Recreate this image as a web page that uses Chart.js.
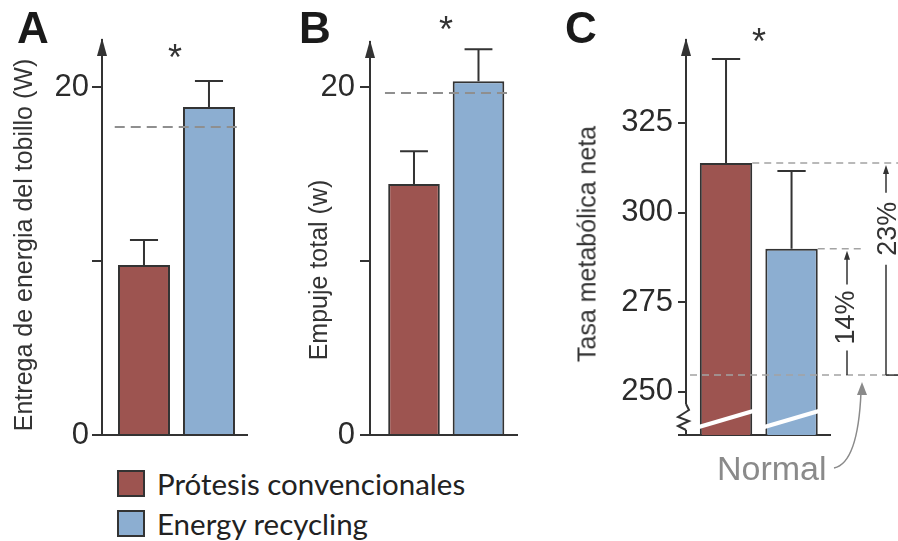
<!DOCTYPE html>
<html>
<head>
<meta charset="utf-8">
<script src="https://cdn.jsdelivr.net/npm/chart.js@4/dist/chart.umd.min.js"></script>
<style>
  body { margin: 0; background: #fff; }
  #wrap { position: relative; width: 898px; height: 541px; overflow: hidden; font-family: "Liberation Sans", Arial, sans-serif; color: #333; }
  canvas { position: absolute; top: 0; }
  .letter { position: absolute; font-weight: bold; font-size: 44px; line-height: 44px; color: #1a1a1a; }
  .star { position: absolute; font-size: 36px; line-height: 36px; color: #333; }
  .ytitle { position: absolute; font-size: 25px; line-height: 25px; white-space: nowrap; color: #333;
            transform: translate(-50%, -50%) rotate(-90deg); }
  .normal { position: absolute; left: 717px; top: 451px; font-size: 34px; line-height: 34px; color: #8a8a8a; }
  .key { position: absolute; left: 117px; width: 24px; height: 23px; border: 2px solid #333; }
  .keytxt { position: absolute; left: 157px; font-family: Lato, "Open Sans", sans-serif; font-size: 29.5px; line-height: 30px; color: #222; }
</style>
</head>
<body>
<div id="wrap">
  <canvas id="cA" width="280" height="460" style="left:0px"></canvas>
  <canvas id="cB" width="280" height="460" style="left:280px"></canvas>
  <canvas id="cC" width="338" height="500" style="left:560px"></canvas>

  <div class="letter" style="left:17px;top:6px">A</div>
  <div class="letter" style="left:299px;top:6px">B</div>
  <div class="letter" style="left:565px;top:6px">C</div>

  <div class="star" style="left:168px;top:40px">*</div>
  <div class="star" style="left:439px;top:12px">*</div>
  <div class="star" style="left:752px;top:24px">*</div>

  <div class="ytitle" style="left:23px;top:245px">Entrega de energia del tobillo (W)</div>
  <div class="ytitle" style="left:318px;top:270px">Empuje total (w)</div>
  <div class="ytitle" style="left:587px;top:244px">Tasa metabólica neta</div>

  <div class="normal">Normal</div>

  <div class="key" id="k0" style="top:470px"></div>
  <div class="keytxt" id="t0" style="top:469px"></div>
  <div class="key" id="k1" style="top:510px"></div>
  <div class="keytxt" id="t1" style="top:509px"></div>
</div>

<script>
// groups (legend) and colours
const groups = ['Prótesis convencionales', 'Energy recycling'];
const groupColors = ['#9d5450', '#8caed1'];

// A: ankle energy delivery (W)
const ankleMean = [9.77, 18.85];
const ankleErrTop = [11.21, 20.34];
const ankleRef = 17.7;
const ankleTicks = [0, 10, 20];
const ankleTickLabels = ['0', '', '20'];

// B: total push-off (W)
const pushMean = [14.43, 20.35];
const pushErrTop = [16.32, 22.18];
const pushRef = 19.66;
const pushTicks = [0, 10, 20];
const pushTickLabels = ['0', '', '20'];

// C: net metabolic rate
const metMean = [313.8, 289.9];
const metErrTop = [342.8, 311.6];
const metNormal = 254.7;
const metTicks = [238, 250, 275, 300, 325];
const metTickLabels = ['', '250', '275', '300', '325'];
const metPct = ['23%', '14%'];

const ink = '#333333';

document.getElementById('k0').style.background = groupColors[0];
document.getElementById('k1').style.background = groupColors[1];
document.getElementById('t0').textContent = groups[0];
document.getElementById('t1').textContent = groups[1];

function vArrow(ctx, x, yBot, yTop, gapC, gapH) {
  ctx.beginPath();
  if (gapC == null) {
    ctx.moveTo(x, yBot); ctx.lineTo(x, yTop + 6);
  } else {
    ctx.moveTo(x, yBot); ctx.lineTo(x, gapC + gapH);
    ctx.moveTo(x, gapC - gapH); ctx.lineTo(x, yTop + 6);
  }
  ctx.stroke();
  ctx.beginPath();
  ctx.moveTo(x, yTop);
  ctx.lineTo(x - 3, yTop + 9);
  ctx.lineTo(x + 3, yTop + 9);
  ctx.closePath();
  ctx.fill();
}

const extras = {
  id: 'extras',
  afterDatasetsDraw(chart, args, o) {
    const {ctx, chartArea: a, scales: {x, y}} = chart;
    const W = chart.width;
    const bars = chart.getDatasetMeta(0).data;
    ctx.save();

    // axis arrow head
    ctx.fillStyle = ink;
    ctx.beginPath();
    ctx.moveTo(a.left, a.top - 2);
    ctx.lineTo(a.left - 5, a.top + 16);
    ctx.lineTo(a.left + 5, a.top + 16);
    ctx.closePath();
    ctx.fill();

    // broken axis marks
    if (o.broken) {
      ctx.strokeStyle = '#fff';
      ctx.lineWidth = 4;
      bars.forEach(b => {
        ctx.beginPath();
        ctx.moveTo(b.x - b.width / 2 - 1, a.bottom - 8);
        ctx.lineTo(b.x + b.width / 2 + 1, a.bottom - 24);
        ctx.stroke();
      });
      ctx.fillStyle = '#fff';
      ctx.fillRect(a.left - 2, a.bottom - 31, 4, 26);
      ctx.strokeStyle = ink;
      ctx.lineWidth = 2;
      ctx.beginPath();
      ctx.moveTo(a.left, a.bottom - 31);
      ctx.lineTo(a.left + 3, a.bottom - 25);
      ctx.lineTo(a.left - 8, a.bottom - 18);
      ctx.lineTo(a.left + 3, a.bottom - 14);
      ctx.lineTo(a.left - 8, a.bottom - 9);
      ctx.lineTo(a.left, a.bottom - 5);
      ctx.stroke();
    }

    // error bars
    ctx.strokeStyle = ink;
    ctx.lineWidth = 2;
    o.errTop.forEach((v, i) => {
      const b = bars[i];
      const ye = y.getPixelForValue(v);
      const cap = b.width * 0.27;
      ctx.beginPath();
      ctx.moveTo(b.x, b.y);
      ctx.lineTo(b.x, ye);
      ctx.moveTo(b.x - cap, ye);
      ctx.lineTo(b.x + cap, ye);
      ctx.stroke();
    });

    // dashed reference line (A, B)
    if (o.ref != null) {
      ctx.strokeStyle = '#8f8f8f';
      ctx.lineWidth = 2;
      ctx.setLineDash([10, 6]);
      const yr = y.getPixelForValue(o.ref);
      ctx.beginPath();
      ctx.moveTo(x.getPixelForValue(0.55), yr);
      ctx.lineTo(x.getPixelForValue(2.45), yr);
      ctx.stroke();
      ctx.setLineDash([]);
    }

    // normal level and % differences (C)
    if (o.normal != null) {
      const yn = y.getPixelForValue(o.normal);
      const yr = y.getPixelForValue(o.mean[0]);
      const yb = y.getPixelForValue(o.mean[1]);
      ctx.strokeStyle = '#a3a3a3';
      ctx.lineWidth = 1.5;
      ctx.setLineDash([7, 5]);
      ctx.beginPath();
      ctx.moveTo(a.left + 4, yn); ctx.lineTo(W, yn);
      ctx.moveTo(bars[0].x + bars[0].width / 2, yr); ctx.lineTo(W, yr);
      ctx.moveTo(bars[1].x + bars[1].width / 2, yb); ctx.lineTo(a.right + 32, yb);
      ctx.stroke();
      ctx.setLineDash([]);

      ctx.strokeStyle = ink;
      ctx.fillStyle = ink;
      ctx.lineWidth = 1.5;
      ctx.font = '27px "Liberation Sans", Arial, sans-serif';
      ctx.textAlign = 'center';
      ctx.textBaseline = 'middle';

      const x14 = a.right + 17;
      const c14 = yn - 0.456 * (yn - yb);
      vArrow(ctx, x14, yn, yb + 2, c14, 33);
      const x23 = a.right + 56;
      const c23 = yn - 0.69 * (yn - yr);
      vArrow(ctx, x23, yn, yr + 2, c23, 36);
      ctx.beginPath();
      ctx.moveTo(x23, yn); ctx.lineTo(W, yn);
      ctx.stroke();

      [[x14 - 2, c14, o.pct[1]], [x23 + 1, c23, o.pct[0]]].forEach(([tx, ty, s]) => {
        ctx.save();
        ctx.translate(tx, ty);
        ctx.rotate(-Math.PI / 2);
        ctx.fillText(s, 0, 2);
        ctx.restore();
      });

      // curved pointer from the "Normal" label
      const tipX = a.right + 32, tipY = yn + 7;
      ctx.strokeStyle = '#8a8a8a';
      ctx.fillStyle = '#8a8a8a';
      ctx.beginPath();
      ctx.moveTo(a.right + 4, yn + 93);
      ctx.quadraticCurveTo(a.right + 28, yn + 88, tipX - 1, tipY + 10);
      ctx.stroke();
      ctx.beginPath();
      ctx.moveTo(tipX, tipY);
      ctx.lineTo(tipX - 5, tipY + 13);
      ctx.lineTo(tipX + 5, tipY + 13);
      ctx.closePath();
      ctx.fill();
    }
    ctx.restore();
  }
};

function panel(id, o) {
  return new Chart(document.getElementById(id), {
    type: 'bar',
    data: {
      datasets: [{
        data: o.mean.map((v, i) => ({x: i + 1, y: v})),
        backgroundColor: groupColors,
        borderColor: ink,
        borderWidth: 2,
        borderSkipped: 'bottom',
        categoryPercentage: 0.8,
        barPercentage: 1
      }]
    },
    options: {
      responsive: false,
      animation: false,
      devicePixelRatio: 1,
      events: [],
      layout: {padding: o.pad},
      plugins: {legend: {display: false}, tooltip: {enabled: false}, extras: o},
      scales: {
        x: {
          type: 'linear', min: o.xMin, max: o.xMax, offset: false,
          grid: {display: false},
          ticks: {display: false},
          border: {display: true, color: ink, width: 2},
          afterFit: s => { s.height = 0; }
        },
        y: {
          min: o.yMin, max: o.yMax,
          afterBuildTicks: s => { s.ticks = o.ticks.map(v => ({value: v})); },
          ticks: {
            autoSkip: false,
            callback: (v, i) => o.tickLabels[i],
            color: '#2b2b2b',
            padding: o.tickPad,
            font: {family: '"Liberation Sans", Arial, sans-serif', size: 31}
          },
          grid: {display: true, drawOnChartArea: false, drawTicks: true, tickLength: o.tickLen, color: ink, lineWidth: 2},
          border: {display: true, color: ink, width: 2},
          afterFit: s => { s.width = o.axisX; }
        }
      }
    },
    plugins: [extras]
  });
}

panel('cA', {
  mean: ankleMean, errTop: ankleErrTop, ref: ankleRef,
  ticks: ankleTicks, tickLabels: ankleTickLabels,
  yMin: 0, yMax: 22.7, xMin: 0.354, xMax: 2.585,
  axisX: 102, tickLen: 10, tickPad: 3,
  pad: {left: 0, top: 40, right: 33, bottom: 25}
});

panel('cB', {
  mean: pushMean, errTop: pushErrTop, ref: pushRef,
  ticks: pushTicks, tickLabels: pushTickLabels,
  yMin: 0, yMax: 22.6, xMin: 0.318, xMax: 2.597,
  axisX: 90, tickLen: 10, tickPad: 5,
  pad: {left: 0, top: 42, right: 43, bottom: 25}
});

panel('cC', {
  mean: metMean, errTop: metErrTop, normal: metNormal, pct: metPct, broken: true,
  ticks: metTicks, tickLabels: metTickLabels,
  yMin: 238, yMax: 348.1, xMin: 0.389, xMax: 2.587,
  axisX: 126, tickLen: 8, tickPad: 5,
  pad: {left: 0, top: 40, right: 68, bottom: 65}
});
</script>
</body>
</html>
